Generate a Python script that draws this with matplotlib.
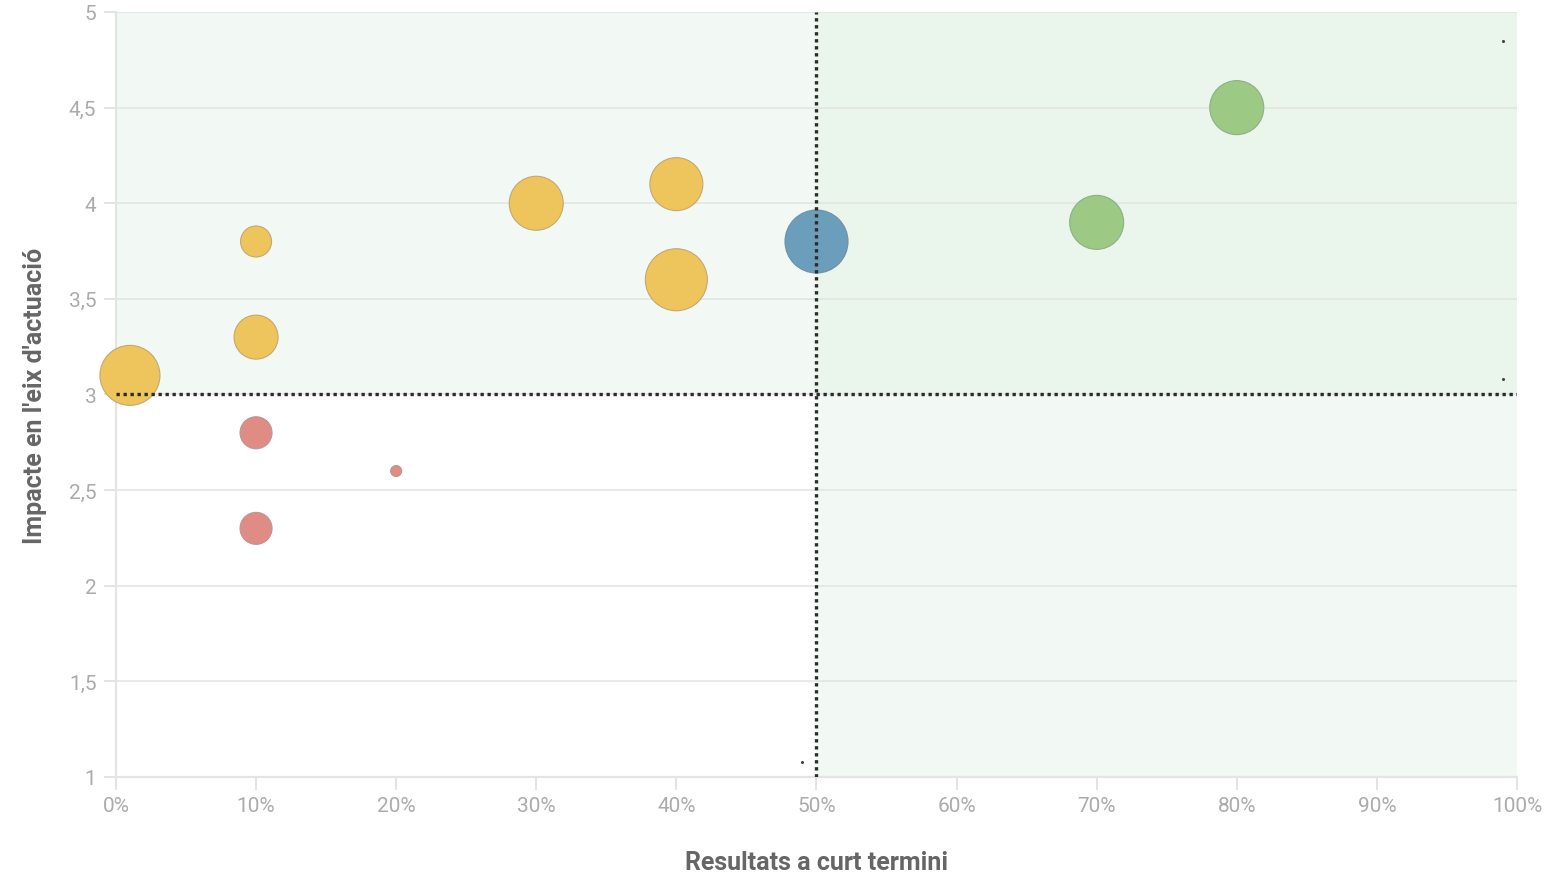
import matplotlib
matplotlib.use("Agg")
import matplotlib.pyplot as plt
from matplotlib.ticker import FuncFormatter, MultipleLocator

# Dades (bombolles)
resultats = [1, 10, 10, 30, 40, 40, 50, 70, 80, 10, 20, 10]
impacte = [3.1, 3.8, 3.3, 4.0, 4.1, 3.6, 3.8, 3.9, 4.5, 2.8, 2.6, 2.3]
pes = [60, 31, 44, 54, 53, 62, 63, 54, 54, 32, 11, 32]
grup = ["groc", "groc", "groc", "groc", "groc", "groc", "blau",
        "verd", "verd", "vermell", "vermell", "vermell"]

# punts minuscuIs que surten al grafic original
petits_x = [49, 99, 99]
petits_y = [1.08, 4.85, 3.08]

llindar_x = 50
llindar_y = 3

colors = {"groc": "#EEC55C", "blau": "#6A9EBB", "verd": "#9CC984", "vermell": "#DF8C84"}
vores = {"groc": "#C4A870", "blau": "#7090A8", "verd": "#8CB088", "vermell": "#C09490"}

plt.rcParams["font.family"] = ["Roboto", "DejaVu Sans"]

fig = plt.figure(figsize=(15.5, 8.78), dpi=100)
ax = fig.add_axes([0.0748, 0.1139, 0.9039, 0.8713])
ax.set_xlim(0, 100)
ax.set_ylim(1, 5)

# quadrants de fons
ax.axvspan(llindar_x, 100, ymin=0.5, ymax=1, color="#EAF5EC", lw=0, zorder=0)
ax.axvspan(0, llindar_x, ymin=0.5, ymax=1, color="#F2F8F4", lw=0, zorder=0)
ax.axvspan(llindar_x, 100, ymin=0, ymax=0.5, color="#F2F8F4", lw=0, zorder=0)

ax.yaxis.set_major_locator(MultipleLocator(0.5))
ax.xaxis.set_major_locator(MultipleLocator(10))
ax.grid(axis="y", color="#E3E6E3", lw=1.2, zorder=1)
ax.set_axisbelow(True)

ax.yaxis.set_major_formatter(FuncFormatter(lambda v, p: ("%g" % v).replace(".", ",")))
ax.xaxis.set_major_formatter(FuncFormatter(lambda v, p: "%d%%" % v))

for s in ["top", "right"]:
    ax.spines[s].set_visible(False)
for s in ["left", "bottom"]:
    ax.spines[s].set_color("#E4E4E4")
    ax.spines[s].set_linewidth(1.6)

ax.tick_params(axis="both", colors="#E0E0E0", length=9, width=1.3, pad=5,
               labelcolor="#ABABAB", labelsize=15)

for g in ["groc", "blau", "verd", "vermell"]:
    xs = [x for x, k in zip(resultats, grup) if k == g]
    ys = [y for y, k in zip(impacte, grup) if k == g]
    ss = [(p * 0.72) ** 2 for p, k in zip(pes, grup) if k == g]
    ax.scatter(xs, ys, s=ss, color=colors[g], edgecolors=vores[g],
               linewidths=0.8, zorder=3, clip_on=False)

ax.scatter(petits_x, petits_y, s=1.5, color="#444444", zorder=3)

# linies de referencia
ax.axvline(llindar_x, color="#2B2B2B", lw=2.4, ls=(0, (1, 1.1)), zorder=4)
ax.axhline(llindar_y, color="#2B2B2B", lw=2.4, ls=(0, (1, 1.1)), zorder=4)

ax.set_xlabel("Resultats a curt termini", fontsize=18, fontweight="bold",
              color="#666666", labelpad=25)
ax.set_ylabel("Impacte en l'eix d'actuació", fontsize=18, fontweight="bold",
              color="#666666", labelpad=16)

fig.savefig("out.png", dpi=100)
